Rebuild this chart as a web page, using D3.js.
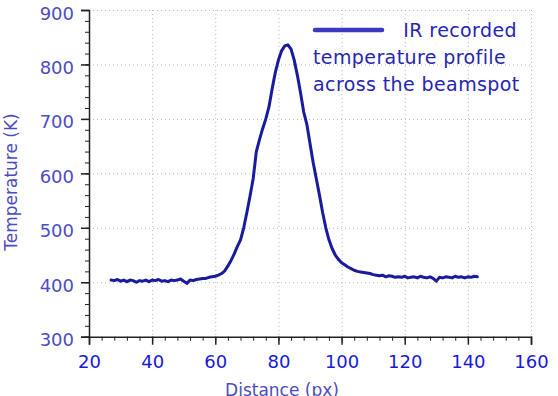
<!DOCTYPE html>
<html><head><meta charset="utf-8">
<script src="https://cdn.jsdelivr.net/npm/d3@7"></script>
<style>
html,body{margin:0;padding:0;background:#fff;}
svg{display:block;font-family:"DejaVu Sans",sans-serif;}
</style></head>
<body><svg id="c" width="558" height="396"></svg>
<script>
const distance = [27,28,29,30,31,32,33,34,35,36,37,38,39,40,41,42,43,44,45,46,47,48,49,50,51,52,53,54,55,56,57,58,59,60,61,62,63,64,65,66,67,68,69,70,71,72,73,74,75,76,77,78,79,80,81,82,83,84,85,86,87,88,89,90,91,92,93,94,95,96,97,98,99,100,101,102,103,104,105,106,107,108,109,110,111,112,113,114,115,116,117,118,119,120,121,122,123,124,125,126,127,128,129,130,131,132,133,134,135,136,137,138,139,140,141,142,143];
const temperature = [404,403,405,402,404,401,404,403,400,403,402,404,401,404,403,405,402,403,401,404,403,404,406,402,398,404,403,405,406,407,407,409,410,411,413,416,421,430,440,452,466,478,500,528,558,590,640,662,682,700,722,755,785,808,825,834,836,828,808,780,748,713,690,655,620,590,560,528,500,478,462,450,442,436,432,428,425,422,420,419,418,417,416,414,413,412,413,410,412,411,409,410,409,411,408,409,410,408,411,409,408,410,407,402,409,408,410,409,408,411,409,410,408,410,409,411,410];
const xTicks = [20,40,60,80,100,120,140,160];
const yTicks = [300,400,500,600,700,800,900];
const legendLines = ["IR recorded","temperature profile","across the beamspot"];

const svg = d3.select("#c");
const x = d3.scaleLinear().domain([20,160]).range([89,531]);
const y = d3.scaleLinear().domain([300,900]).range([336.7,10]);

// grid
const g = svg.append("g");
g.selectAll(".gx").data(xTicks.slice(1)).join("line")
  .attr("x1",d=>x(d)+0.5).attr("x2",d=>x(d)+0.5).attr("y1",y(900)).attr("y2",y(300))
  .attr("stroke","#b8b8b8").attr("stroke-width",1).attr("stroke-dasharray","1,3");
g.selectAll(".gy").data(yTicks.slice(1)).join("line")
  .attr("x1",x(20)).attr("x2",x(160)).attr("y1",d=>y(d)+0.5).attr("y2",d=>y(d)+0.5)
  .attr("stroke","#b8b8b8").attr("stroke-width",1).attr("stroke-dasharray","1,3");

// axes
const minorX = d3.range(20,161,4);
const minorY = d3.range(300,901,20);
const ax = svg.append("g").attr("transform",`translate(0,${y(300)})`);
ax.call(d3.axisBottom(x).tickValues(minorX).tickSize(4).tickFormat(""));
ax.selectAll(".tick line").attr("stroke","#222");
ax.select(".domain").remove();
const axMajor = svg.append("g").attr("transform",`translate(0,${y(300)})`)
  .call(d3.axisBottom(x).tickValues(xTicks).tickSize(8).tickPadding(11).tickFormat(d3.format("d")));
axMajor.select(".domain").attr("stroke","#222").attr("stroke-width",1.5);
axMajor.selectAll(".tick line").attr("stroke","#222").attr("stroke-width",1.5);
axMajor.selectAll("text").attr("fill","#1818dc").attr("font-size",18).attr("font-family","DejaVu Sans, sans-serif");

const ay = svg.append("g").attr("transform",`translate(${x(20)},0)`);
ay.call(d3.axisLeft(y).tickValues(minorY).tickSize(4).tickFormat(""));
ay.selectAll(".tick line").attr("stroke","#222");
ay.select(".domain").remove();
const ayMajor = svg.append("g").attr("transform",`translate(${x(20)},0)`)
  .call(d3.axisLeft(y).tickValues(yTicks).tickSize(8).tickPadding(7).tickFormat(d3.format("d")));
ayMajor.select(".domain").attr("stroke","#222").attr("stroke-width",1.5);
ayMajor.selectAll(".tick line").attr("stroke","#222").attr("stroke-width",1.5);
ayMajor.selectAll("text").attr("fill","#4c4cc6").attr("font-size",18).attr("font-family","DejaVu Sans, sans-serif")
  .attr("dy","0.5em");

// axis titles
svg.append("text").attr("transform","translate(17,182) rotate(-90)")
  .attr("text-anchor","middle").attr("fill","#4c4cc2").attr("font-size",17).text("Temperature (K)");
svg.append("text").attr("x",282).attr("y",396)
  .attr("text-anchor","middle").attr("fill","#4c4cc2").attr("font-size",17).text("Distance (px)");

// data line
const pts = distance.map((d,i)=>[d,temperature[i]]);
svg.append("path").datum(pts)
  .attr("fill","none").attr("stroke","#1a1a9e").attr("stroke-width",3)
  .attr("stroke-linejoin","round").attr("stroke-linecap","round")
  .attr("d",d3.line().x(d=>x(d[0])).y(d=>y(d[1])));

// legend
svg.append("line").attr("x1",315).attr("x2",382).attr("y1",30).attr("y2",30)
  .attr("stroke","#3a3ac0").attr("stroke-width",4.5).attr("stroke-linecap","round");
const lt = svg.append("g").attr("fill","#2626b2").attr("font-size",19).attr("letter-spacing","0.4px");
lt.append("text").attr("x",517).attr("y",37).attr("text-anchor","end").text(legendLines[0]);
lt.append("text").attr("x",313).attr("y",64).text(legendLines[1]);
lt.append("text").attr("x",313).attr("y",91).text(legendLines[2]);
</script></body></html>
